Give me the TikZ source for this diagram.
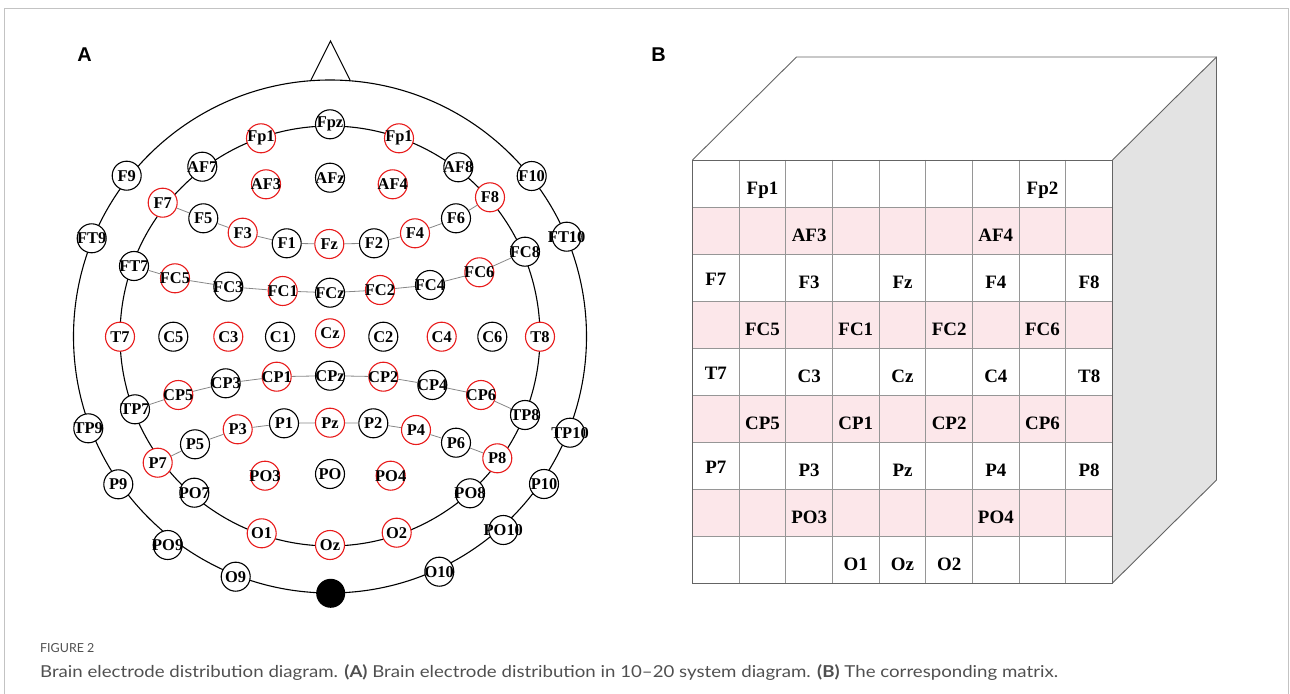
\documentclass[tikz,border=0pt]{standalone}
\usepackage{fontspec}
\usepackage{graphicx}
\setmainfont{Liberation Serif}
\newfontfamily\headfont{Liberation Sans}
\newfontfamily\capfont{Lato}
\definecolor{elred}{RGB}{232,28,28}
\definecolor{rowgray}{RGB}{135,135,135}
\definecolor{gridgray}{RGB}{150,150,150}
\definecolor{edgegray}{RGB}{100,100,100}
\definecolor{sidegray}{RGB}{227,227,227}
\definecolor{pinkrow}{RGB}{252,231,234}
\definecolor{framegray}{RGB}{195,195,195}
\definecolor{capgray}{RGB}{80,80,80}
\tikzset{
  elec/.style={circle, draw=#1, fill=white, line width=1.1bp, minimum size=29bp, inner sep=0pt},
  elabel/.style={font=\bfseries\fontsize{16.5}{16.5}\selectfont, inner sep=0pt, text=black},
  ring/.style={line width=1.1bp, draw=black},
  rowline/.style={line width=0.8bp, draw=rowgray},
  gridline/.style={line width=0.8bp, draw=gridgray},
  edge/.style={line width=0.9bp, draw=edgegray},
  mlabel/.style={font=\bfseries\fontsize{19}{19}\selectfont, inner sep=0pt, anchor=base},
  panel/.style={font=\headfont\bfseries\fontsize{20}{20}\selectfont, inner sep=0pt},
}
\begin{document}
\begin{tikzpicture}[x=1bp, y=-1bp]
\useasboundingbox (0,0) rectangle (1290,694);
% outer frame (open at the bottom)
\draw[framegray, line width=1bp] (4.5,694) -- (4.5,8.5) -- (1288.5,8.5) -- (1288.5,694);

% ---------------- panel A: 10-20 electrode layout ----------------
\node[panel] (lblA) at (84.5,55) {A};
% head outline, nose and inner ring
\draw[ring] (330,336.5) circle[radius=256.5];
\draw[ring] (311,80) -- (330.5,41) -- (350,80);
\draw[ring] (330,336) circle[radius=210];

% electrodes drawn in black
\foreach \nm/\xx/\yy/\tx in {
  Fpz/330/124.3/Fpz, AFz/330/177.7/AFz, AF7/202.3/166.7/AF7, AF8/458.3/167.3/AF8,
  F9/126.7/175.7/F9, F10/531.7/176/F10, F5/203.3/218.3/F5, F1/286.7/243.3/F1,
  F2/374/243.3/F2, F6/456/218.3/F6, FT9/91.7/238.3/FT9, FT10/566.7/236.7/FT10,
  FT7/134/266/FT7, FC8/525/251.7/FC8, FC3/228.3/286.7/FC3, FCz/330/292.7/FCz,
  FC4/430/285/FC4, C5/173.3/336.7/C5, C1/280/336.7/C1, C2/383.3/336.7/C2,
  C6/492.3/336.7/C6, CP3/225.7/383.3/CP3, CPz/330/375.7/CPz, CP4/432.3/385/CP4,
  TP7/135/409.3/TP7, TP8/525/415/TP8, TP9/88.3/428.3/TP9, TP10/570/432.7/TP10,
  P5/195/444.3/P5, P1/284/423.3/P1, P2/373.3/423.3/P2, P6/456/442.7/P6,
  P9/118.3/484.3/P9, P10/544/484/P10, PO/330/474/PO, PO7/194.3/492.7/PO7,
  PO8/470/493.3/PO8, PO9/167.7/545/PO9, PO10/503.3/530/PO10,
  O9/235.7/576.7/O9, O10/439.3/571.7/O10}
  \node[elec=black, label={[elabel]center:\tx}] (\nm) at (\xx,\yy) {};

% electrodes drawn in red
\foreach \nm/\xx/\yy/\tx in {
  Fp1/261/138.3/Fp1, Fp2/399/138.3/Fp1, AF3/266/184.3/AF3, AF4/392.7/184.3/AF4,
  F7/162.7/202.7/F7, F3/242.7/232.7/F3, Fz/329.3/244/Fz, F4/415/233.3/F4,
  F8/490/197.3/F8, FC5/175/278.3/FC5, FC1/282.7/291/FC1, FC2/380/290/FC2,
  FC6/479.3/272.3/FC6, T7/120/336.7/T7, C3/228.3/336.7/C3, Cz/330/333.3/Cz,
  C4/441.7/336.7/C4, T8/540/336.7/T8, CP5/178.3/395/CP5, CP1/276.7/376.7/CP1,
  CP2/383.3/376.7/CP2, CP6/481/395/CP6, P7/157.7/462.7/P7, P3/237.7/429.3/P3,
  Pz/330/422.7/Pz, P4/416/430/P4, P8/497.3/458.3/P8, PO3/265/475.7/PO3,
  PO4/390.7/475.7/PO4, O1/261.7/533.3/O1, Oz/330/545/Oz, O2/396.7/532.7/O2}
  \node[elec=elred, label={[elabel]center:\tx}] (\nm) at (\xx,\yy) {};

% reference electrode
\node[circle, fill=black, minimum size=29bp, inner sep=0pt] (Iz) at (330.7,593.3) {};

% thin links along the F, FC, CP and P rows
\draw[rowline] (F7) -- (F5) -- (F3) -- (F1) -- (Fz) -- (F2) -- (F4) -- (F6) -- (F8);
\draw[rowline] (FT7) -- (FC5) -- (FC3) -- (FC1) -- (FCz) -- (FC2) -- (FC4) -- (FC6) -- (FC8);
\draw[rowline] (TP7) -- (CP5) -- (CP3) -- (CP1) -- (CPz) -- (CP2) -- (CP4) -- (CP6) -- (TP8);
\draw[rowline] (P7) -- (P5) -- (P3) -- (P1) -- (Pz) -- (P2) -- (P4) -- (P6) -- (P8);

% ---------------- panel B: electrode matrix as a box ----------------
\node[panel] (lblB) at (658.5,55) {B};
\fill[sidegray] (1112.5,160) -- (1216.5,57) -- (1216.5,480) -- (1112.5,583) -- cycle;
\foreach \r in {2,4,6,8}
  \fill[pinkrow] (692.5,{160+47*(\r-1)}) rectangle (1112.5,{160+47*\r});
\foreach \i in {1,...,8} {
  \draw[gridline] ({692.5+46.667*\i},160) -- ({692.5+46.667*\i},583);
  \draw[gridline] (692.5,{160+47*\i}) -- (1112.5,{160+47*\i});
}
\draw[edge] (692.5,160) rectangle (1112.5,583);
\draw[edge] (692.5,160) -- (796.5,57) -- (1216.5,57) -- (1216.5,480) -- (1112.5,583);
\draw[edge] (1112.5,160) -- (1216.5,57);

\foreach \c/\r/\tx in {
  2/1/Fp1, 8/1/Fp2,
  3/2/AF3, 7/2/AF4,
  1/3/F7, 3/3/F3, 5/3/Fz, 7/3/F4, 9/3/F8,
  2/4/FC5, 4/4/FC1, 6/4/FC2, 8/4/FC6,
  1/5/T7, 3/5/C3, 5/5/Cz, 7/5/C4, 9/5/T8,
  2/6/CP5, 4/6/CP1, 6/6/CP2, 8/6/CP6,
  1/7/P7, 3/7/P3, 5/7/Pz, 7/7/P4, 9/7/P8,
  3/8/PO3, 7/8/PO4,
  4/9/O1, 5/9/Oz, 6/9/O2}
  \node[mlabel] (m\tx) at ({692.5+46.667*(\c-0.5)}, {160+47*(\r-0.5)+11-3*(\c==1)}) {\tx};

% ---------------- caption ----------------
\node[anchor=base west, inner sep=0pt, font=\capfont\fontsize{12.5}{12.5}\selectfont, text=capgray] (figno) at (40,652) {FIGURE 2};
\node[anchor=base west, inner sep=0pt, font=\capfont\fontsize{16.5}{16.5}\selectfont, text=capgray] (caption) at (40,677)
  {\resizebox{1018bp}{\height}{Brain electrode distribution diagram. \textbf{(A)} Brain electrode distribution in 10–20 system diagram. \textbf{(B)} The corresponding matrix.}};
\end{tikzpicture}
\end{document}
